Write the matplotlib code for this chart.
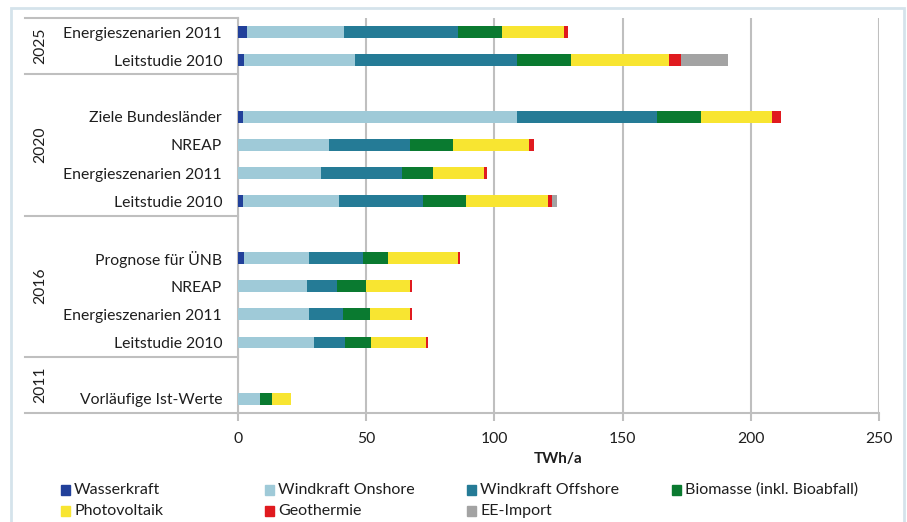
import numpy as np
import matplotlib
matplotlib.use('Agg')
import matplotlib.pyplot as plt
from matplotlib.patches import Rectangle
import matplotlib.transforms as mtransforms

plt.rcParams['font.family'] = ['Lato', 'DejaVu Sans']

# rows from bottom to top
labels = ['Vorläufige Ist-Werte',
          'Leitstudie 2010', 'Energieszenarien 2011', 'NREAP', 'Prognose für ÜNB',
          'Leitstudie 2010', 'Energieszenarien 2011', 'NREAP', 'Ziele Bundesländer',
          'Leitstudie 2010', 'Energieszenarien 2011']
group = [0, 1, 1, 1, 1, 2, 2, 2, 2, 3, 3]
years = ['2011', '2016', '2020', '2025']

wasser   = [0, 0, 0, 0, 2.3, 1.8, 0, 0, 1.8, 2.3, 3.4]
onshore  = [8.6, 29.7, 27.7, 27.0, 25.4, 37.7, 32.2, 35.5, 107.2, 43.3, 38.0]
offshore = [0, 12.0, 13.4, 11.5, 21.2, 32.5, 31.6, 31.6, 54.6, 63.4, 44.5]
biomasse = [4.5, 10.2, 10.4, 11.3, 9.7, 16.9, 12.1, 16.6, 16.8, 20.7, 16.9]
pv       = [7.4, 21.4, 15.6, 17.3, 27.3, 32.1, 20.1, 29.9, 28.0, 38.5, 24.3]
geo      = [0, 0.9, 0.9, 0.9, 0.6, 1.5, 1.3, 1.8, 3.5, 4.5, 1.7]
ee_import = [0, 0, 0, 0, 0, 2.0, 0, 0, 0, 18.5, 0]

series = [wasser, onshore, offshore, biomasse, pv, geo, ee_import]
names = ['Wasserkraft', 'Windkraft Onshore', 'Windkraft Offshore',
         'Biomasse (inkl. Bioabfall)', 'Photovoltaik', 'Geothermie', 'EE-Import']
colors = ['#21409a', '#9fcad8', '#257b96', '#0a7a30', '#f8e531', '#e01a1f', '#a3a3a3']

W, H = 907, 522
fig = plt.figure(figsize=(W/100, H/100), dpi=100)
ax = fig.add_axes([238/W, 1-413/H, (879-238)/W, (413-18)/H])

pos = np.arange(len(labels)) + np.array(group)
left = np.zeros(len(labels))
for vals, c in zip(series, colors):
    ax.barh(pos, vals, left=left, height=0.42, color=c, zorder=3)
    left += np.array(vals)

txt = '#1e1e1e'
grey = '#bfbfbf'
ax.set_xlim(0, 250)
ax.set_ylim(-0.5, 13.5)
ax.set_xticks(np.arange(0, 251, 50))
ax.grid(axis='x', color=grey, lw=1.5, zorder=0)
ax.set_yticks(pos, labels)
ax.tick_params(axis='y', length=0, pad=11.5, labelsize=11.3, labelcolor=txt)
ax.tick_params(axis='x', length=6, width=1.5, color=grey, labelsize=11.3, labelcolor=txt, pad=8)
for s in ['top', 'right']:
    ax.spines[s].set_visible(False)
for s in ['left', 'bottom']:
    ax.spines[s].set_color(grey)
    ax.spines[s].set_linewidth(1.5)
ax.set_xlabel('TWh/a', fontsize=11, fontweight='bold', color=txt, labelpad=4)

# category table lines and year labels
trans = mtransforms.blended_transform_factory(ax.transAxes, ax.transData)
x0 = (25-238)/(879-238)
for yl in [-0.5, 1.5, 6.5, 11.5, 13.5]:
    ax.plot([x0, 0], [yl, yl], transform=trans, color=grey, lw=1.5, clip_on=False)
bounds = [-0.5, 1.5, 6.5, 11.5, 13.5]
for i, yr in enumerate(years):
    ax.text((40-238)/(879-238), (bounds[i]+bounds[i+1])/2, yr, transform=trans,
            rotation=90, ha='center', va='center', fontsize=11.3, color=txt)

# legend
lx = [61, 265, 467, 672]
ly = [490, 511]
for k, (n, c) in enumerate(zip(names, colors)):
    px = lx[k % 4]
    py = ly[k // 4]
    fig.add_artist(Rectangle((px/W, 1-(py+5)/H), 9/W, 10/H, color=c,
                             transform=fig.transFigure))
    fig.text((px+13)/W, 1-py/H, n, ha='left', va='center', fontsize=11.5, color=txt)

# frame
fig.add_artist(Rectangle((11/W, -0.05), (904-11)/W, 1-8/H+0.05, fill=False,
                         edgecolor='#d5e3eb', lw=2, transform=fig.transFigure,
                         clip_on=False))

fig.savefig('out.png', dpi=100)
